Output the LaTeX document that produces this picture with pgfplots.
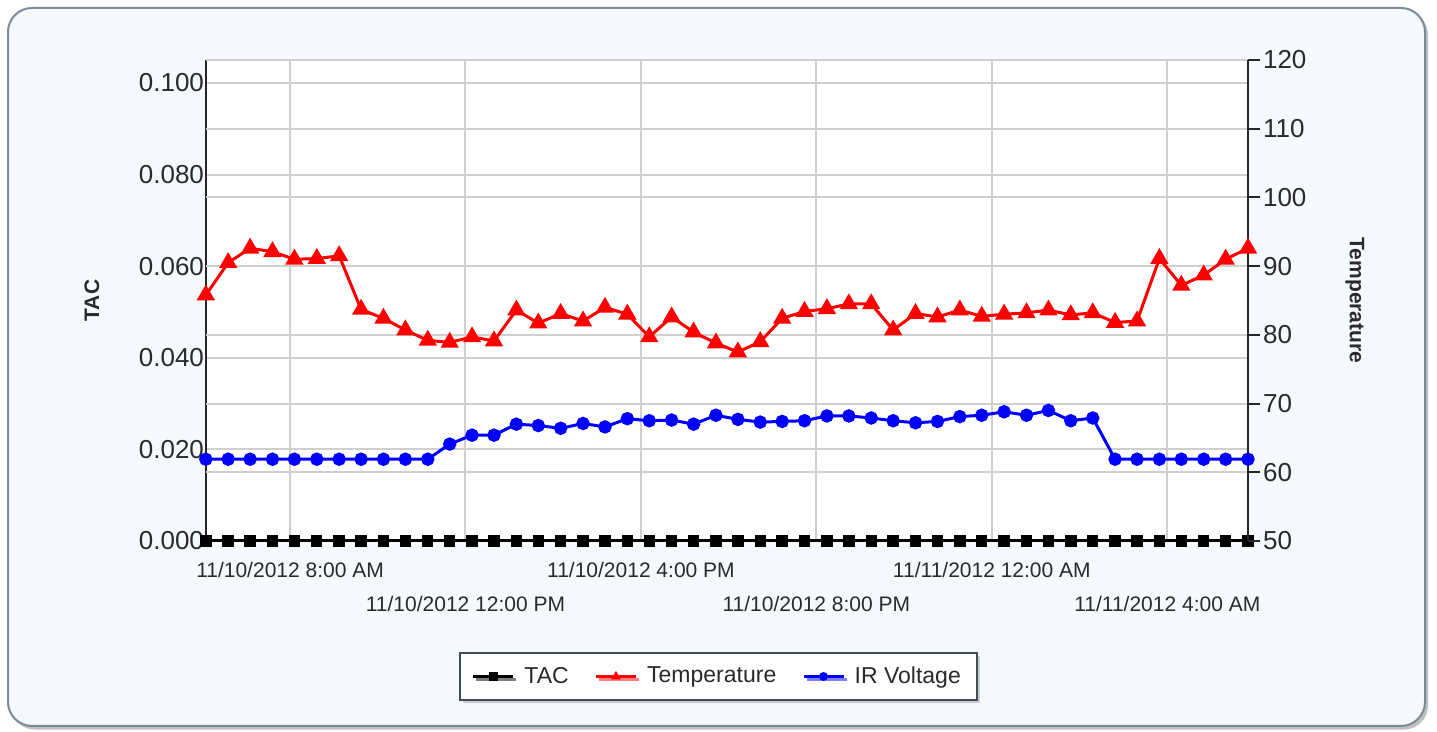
\documentclass[border=0pt]{standalone}
\usepackage{pgfplots}
\usepackage{pgfplotstable}
\pgfplotsset{compat=1.18}
\usepackage{fontspec}
\setmainfont{Liberation Sans}
\usetikzlibrary{shadows}
\definecolor{bgc}{HTML}{F5F8FC}
\definecolor{framec}{HTML}{7D8A99}
\definecolor{txt}{HTML}{2A2A2A}
\definecolor{gridc}{HTML}{CFCFCF}
\definecolor{topc}{HTML}{4F6080}
\definecolor{legc}{HTML}{3C4B5E}

\pgfplotstableread{
h tac temp ir
6.08 0 85.8 61.9
6.59 0 90.5 61.9
7.09 0 92.6 61.9
7.60 0 92.1 61.9
8.10 0 91.0 61.9
8.61 0 91.1 61.9
9.12 0 91.5 61.9
9.62 0 83.7 61.9
10.13 0 82.4 61.9
10.63 0 80.7 61.9
11.14 0 79.2 61.9
11.64 0 78.9 64.1
12.15 0 79.7 65.4
12.65 0 79.1 65.4
13.16 0 83.6 67.0
13.66 0 81.7 66.8
14.17 0 83.1 66.4
14.68 0 82.0 67.1
15.18 0 84.0 66.6
15.69 0 83.0 67.8
16.19 0 79.7 67.5
16.70 0 82.6 67.6
17.20 0 80.4 67.0
17.71 0 78.8 68.3
18.21 0 77.5 67.7
18.72 0 79.0 67.3
19.22 0 82.4 67.4
19.73 0 83.4 67.5
20.24 0 83.8 68.2
20.74 0 84.5 68.2
21.25 0 84.5 67.9
21.75 0 80.7 67.5
22.26 0 83.1 67.2
22.76 0 82.6 67.4
23.27 0 83.6 68.1
23.77 0 82.7 68.3
24.28 0 83.0 68.8
24.79 0 83.2 68.3
25.29 0 83.6 69.0
25.80 0 82.9 67.5
26.30 0 83.2 67.9
26.81 0 81.8 61.9
27.31 0 82.0 61.9
27.82 0 91.1 61.9
28.32 0 87.2 61.9
28.83 0 88.7 61.9
29.33 0 91.0 61.9
29.84 0 92.6 61.9
}\datatable

\begin{document}
\begin{tikzpicture}[x=1pt,y=1pt]
\useasboundingbox (0,0) rectangle (718.5,366);
\fill[white] (0,0) rectangle (718.5,366);
\fill[black!25, rounded corners=12pt] (5.5,1.2) rectangle (714,360.5);
\filldraw[fill=bgc, draw=framec, line width=1pt, rounded corners=12pt] (4,3) rectangle (712.5,362);

\begin{axis}[
  at={(103pt,95.5pt)}, anchor=south west,
  scale only axis, width=521pt, height=240.5pt,
  xmin=6.084, xmax=29.84, ymin=0, ymax=0.105,
  clip=false,
  axis background/.style={fill=white},
  axis y line*=left, axis x line*=bottom,
  axis line style={black!85, line width=1pt},
  xmajorgrids, ymajorgrids,
  grid style={gridc, line width=1pt},
  xtick={8,16,24},
  xticklabels={11/10/2012 8:00 AM, 11/10/2012 4:00 PM, 11/11/2012 12:00 AM},
  extra x ticks={12,20,28},
  extra x tick labels={11/10/2012 12:00 PM, 11/10/2012 8:00 PM, 11/11/2012 4:00 AM},
  extra x tick style={grid=major, tick label style={yshift=-17pt}},
  x tick label style={font=\fontsize{10.5}{12}\selectfont, text=txt, yshift=-7pt},
  xtick style={draw=none},
  ytick={0,0.02,0.04,0.06,0.08,0.1},
  ytick style={draw=none},
  scaled y ticks=false,
  y tick label style={font=\fontsize{13}{15}\selectfont, text=txt, xshift=2.5pt,
    /pgf/number format/fixed, /pgf/number format/fixed zerofill,
    /pgf/number format/precision=3},
  /pgf/number format/assume math mode=true,
  ylabel={TAC},
  ylabel style={at={(axis description cs:-0.1094,0.5)}, anchor=center,
    font=\fontsize{10.5}{12}\selectfont\bfseries, text=txt},
]
\addplot[black, line width=1.5pt, mark=square*, mark size=2.1pt] table[x=h, y=tac] {\datatable};
\draw[topc, line width=1pt] (rel axis cs:0,1) -- (rel axis cs:1,1);
\end{axis}

\begin{axis}[
  at={(103pt,95.5pt)}, anchor=south west,
  scale only axis, width=521pt, height=240.5pt,
  xmin=6.084, xmax=29.84, ymin=50, ymax=120,
  clip=false,
  axis y line*=right, axis x line=none,
  axis line style={black!85, line width=1pt},
  ymajorgrids,
  grid style={gridc, line width=1pt},
  ytick={60,70,80,90,100,110,120},
  extra y ticks={50},
  extra y tick style={grid=none},
  tick align=outside, major tick length=6pt,
  ytick style={black!85, line width=1pt},
  y tick label style={font=\fontsize{13}{15}\selectfont, text=txt, xshift=-2pt},
  /pgf/number format/assume math mode=true,
  ylabel={Temperature},
  ylabel style={at={(axis description cs:1.1027,0.5)}, anchor=center, rotate=180,
    font=\fontsize{10.5}{12}\selectfont\bfseries, text=txt},
  legend columns=-1,
  legend style={at={(axis description cs:0.4918,-0.2817)}, anchor=center,
    draw=legc, line width=1pt, fill=white,
    drop shadow={shadow xshift=1.5pt, shadow yshift=-1.5pt, fill=black!35},
    font=\fontsize{11.5}{13}\selectfont, text=txt,
    inner xsep=6pt, inner ysep=5pt,
    /tikz/every odd column/.append style={column sep=3pt},
    /tikz/every even column/.append style={column sep=11pt}},
  legend image code/.code={\draw[mark repeat=2, mark phase=2, #1, line width=1.2pt, mark size=1.6pt] plot coordinates {(0pt,0pt) (10pt,0pt) (20pt,0pt)};},
]
\addlegendimage{black, line width=1.5pt, mark=square*}
\addlegendentry{TAC}
\addplot[red, line width=1.5pt, mark=triangle*, mark size=3.8pt] table[x=h, y=temp] {\datatable};
\addlegendentry{Temperature}
\addplot[blue, line width=1.5pt, mark=*, mark size=2.6pt] table[x=h, y=ir] {\datatable};
\addlegendentry{IR Voltage}
\end{axis}
\end{tikzpicture}
\end{document}
